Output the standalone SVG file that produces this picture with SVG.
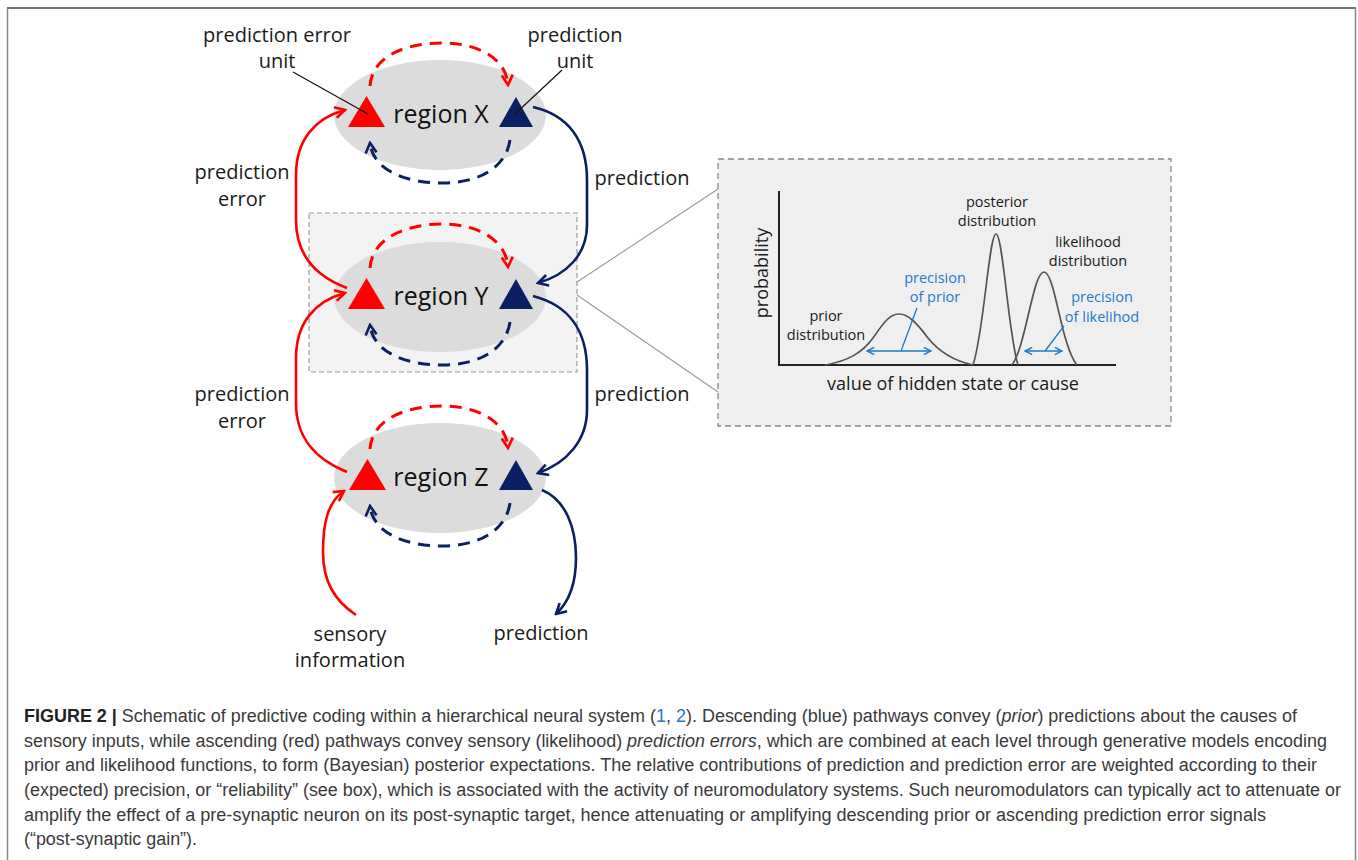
<svg xmlns="http://www.w3.org/2000/svg" width="1358" height="860" viewBox="0 0 1358 860">
<style>
.lbl{font-family:"Open Sans","Noto Sans","DejaVu Sans",sans-serif;font-size:20px;fill:#1a1a1a;text-anchor:middle}
.reg{font-family:"Open Sans","Noto Sans","DejaVu Sans",sans-serif;font-size:25px;fill:#111;text-anchor:middle}
.ins{font-family:"Open Sans","Noto Sans","DejaVu Sans",sans-serif;font-size:14.5px;fill:#1a1a1a;text-anchor:middle}
.insb{font-family:"Open Sans","Noto Sans","DejaVu Sans",sans-serif;font-size:14.5px;fill:#1f78c8;text-anchor:middle}
.ax{font-family:"Open Sans","Noto Sans","DejaVu Sans",sans-serif;font-size:18px;fill:#1a1a1a;text-anchor:middle}
.cap{font-family:"Liberation Sans",Arial,sans-serif;font-size:18px;fill:#3a3a3a}
.ell{fill:#dcdcdc}
.tr{fill:#ff0000}
.tb{fill:#0b1f63}
.sr{fill:none;stroke:#ff0000;stroke-width:2.6}
.sb{fill:none;stroke:#0b1f63;stroke-width:2.6}
.dr{fill:none;stroke:#ff0000;stroke-width:3;stroke-dasharray:12 8}
.db{fill:none;stroke:#0b1f63;stroke-width:3;stroke-dasharray:12 8}
.lead{stroke:#111;stroke-width:1.2;fill:none}
.curve{fill:none;stroke:#555;stroke-width:1.7}
</style>
<defs>
<marker id="ahR" viewBox="0 0 14 14" markerWidth="14" markerHeight="14" refX="12" refY="7" orient="auto" markerUnits="userSpaceOnUse"><path d="M2,1.5 L12,7 L2,12.5" fill="none" stroke="#ff0000" stroke-width="2.6" stroke-linejoin="miter"/></marker>
<marker id="ahB" viewBox="0 0 14 14" markerWidth="14" markerHeight="14" refX="12" refY="7" orient="auto" markerUnits="userSpaceOnUse"><path d="M2,1.5 L12,7 L2,12.5" fill="none" stroke="#0b1f63" stroke-width="2.6" stroke-linejoin="miter"/></marker>
<marker id="ahP" viewBox="0 0 10 10" markerWidth="9" markerHeight="9" refX="9" refY="5" orient="auto-start-reverse" markerUnits="userSpaceOnUse"><path d="M1,1 L9,5 L1,9" fill="none" stroke="#1f78c8" stroke-width="1.6"/></marker>
</defs>
<rect x="0" y="0" width="1358" height="860" fill="#ffffff"/>
<g id="frame">
<line x1="7" y1="8" x2="1356" y2="8" stroke="#444" stroke-width="1.5"/>
<line x1="7.5" y1="8" x2="7.5" y2="860" stroke="#888" stroke-width="1.5"/>
<line x1="1355.5" y1="8" x2="1355.5" y2="860" stroke="#888" stroke-width="1.5"/>
</g>
<g id="focus-box">
<rect x="309" y="213" width="268" height="159" fill="#f3f3f3" stroke="#999" stroke-width="1.2" stroke-dasharray="5 3"/>
</g>
<g id="regionX">
<ellipse class="ell" cx="440" cy="115" rx="106" ry="55"/>
<polygon class="tr" points="348,127 385,127 366.5,96"/>
<polygon class="tb" points="499,127 533,127 516,97"/>
<text class="reg" x="441" y="123">region X</text>
</g>
<g id="regionY">
<ellipse class="ell" cx="440" cy="297" rx="106" ry="55"/>
<polygon class="tr" points="348,309 385,309 366.5,278"/>
<polygon class="tb" points="499,309 533,309 516,279"/>
<text class="reg" x="441" y="305">region Y</text>
</g>
<g id="regionZ">
<ellipse class="ell" cx="440" cy="478" rx="106" ry="55"/>
<polygon class="tr" points="349,490 386,490 367.5,459"/>
<polygon class="tb" points="499,490 533,490 516,460"/>
<text class="reg" x="441" y="486">region Z</text>
</g>
<g id="connectors">
<path class="dr" d="M370,86 C372,55 408,43 442,43 C478,43 506,58 508,85" marker-end="url(#ahR)"/>
<path class="db" d="M510,140 C506,168 478,183 443,183 C405,183 373,170 370,143" marker-end="url(#ahB)"/>
<path class="dr" d="M370,268 C372,237 408,224 442,224 C478,224 506,240 508,267" marker-end="url(#ahR)"/>
<path class="db" d="M510,322 C506,350 478,365 443,365 C405,365 373,352 370,325" marker-end="url(#ahB)"/>
<path class="dr" d="M370,449 C372,418 408,406 442,406 C478,406 506,421 508,448" marker-end="url(#ahR)"/>
<path class="db" d="M510,503 C506,531 478,546 443,546 C405,546 373,533 370,506" marker-end="url(#ahB)"/>
<path class="sr" d="M347,288 C315,276 296,255 296,220 L296,175 C296,140 315,118 345,110" marker-end="url(#ahR)"/>
<path class="sr" d="M347,472 C315,459 296,438 296,403 L296,358 C296,323 315,301 345,293" marker-end="url(#ahR)"/>
<path class="sr" d="M356,615 C335,601 323,582 323,552 C323,522 328,502 344,491" marker-end="url(#ahR)"/>
<path class="sb" d="M533,107 C568,115 587,140 587,180 L587,225 C587,255 566,275 538,283" marker-end="url(#ahB)"/>
<path class="sb" d="M533,296 C568,305 587,330 587,370 L587,410 C587,440 567,463 538,473" marker-end="url(#ahB)"/>
<path class="sb" d="M542,490 C566,500 576,528 576,558 C576,584 568,603 556,614" marker-end="url(#ahB)"/>
<line class="lead" x1="293" y1="72" x2="368" y2="114"/>
<line class="lead" x1="562" y1="70" x2="515" y2="114"/>
<line x1="577" y1="282" x2="718" y2="189" stroke="#999" stroke-width="1.1"/>
<line x1="577" y1="295" x2="718" y2="392" stroke="#999" stroke-width="1.1"/>
</g>
<g id="labels">
<text class="lbl" x="277" y="42">prediction error</text>
<text class="lbl" x="277" y="68">unit</text>
<text class="lbl" x="575" y="42">prediction</text>
<text class="lbl" x="575" y="68">unit</text>
<text class="lbl" x="242" y="179">prediction</text>
<text class="lbl" x="242" y="206">error</text>
<text class="lbl" x="242" y="401">prediction</text>
<text class="lbl" x="242" y="428">error</text>
<text class="lbl" x="642" y="185">prediction</text>
<text class="lbl" x="642" y="401">prediction</text>
<text class="lbl" x="350" y="641">sensory</text>
<text class="lbl" x="350" y="667">information</text>
<text class="lbl" x="541" y="640">prediction</text>
</g>
<g id="inset">
<rect x="718" y="159" width="453" height="267" fill="#efefef" stroke="#888" stroke-width="1.3" stroke-dasharray="6 4"/>
<polyline points="779,191 779,365 1116,365" fill="none" stroke="#222" stroke-width="2"/>
<path class="curve" d="M825,365 C848,361 862,353 873,338 C884,322 890,314 899,314 C908,314 916,322 928,338 C940,353 955,361 973,365"/>
<path class="curve" d="M973,365 C984,332 989,234 996,234 C1003,234 1008,332 1018,365"/>
<path class="curve" d="M1012,365 C1026,346 1033,272 1044,272 C1055,272 1061,346 1077,365"/>
<line x1="867" y1="351" x2="931" y2="351" stroke="#1f78c8" stroke-width="1.6" marker-start="url(#ahP)" marker-end="url(#ahP)"/>
<line x1="901" y1="351" x2="917" y2="308" stroke="#1f78c8" stroke-width="1.3"/>
<line x1="1025" y1="351" x2="1062" y2="351" stroke="#1f78c8" stroke-width="1.6" marker-start="url(#ahP)" marker-end="url(#ahP)"/>
<line x1="1045" y1="351" x2="1064" y2="326" stroke="#1f78c8" stroke-width="1.3"/>
<text class="ax" transform="translate(768,273) rotate(-90)">probability</text>
<text class="ax" x="953" y="390">value of hidden state or cause</text>
<text class="ins" x="997" y="207">posterior</text>
<text class="ins" x="997" y="226">distribution</text>
<text class="ins" x="1088" y="247">likelihood</text>
<text class="ins" x="1088" y="266">distribution</text>
<text class="ins" x="826" y="321">prior</text>
<text class="ins" x="826" y="340">distribution</text>
<text class="insb" x="935" y="283">precision</text>
<text class="insb" x="935" y="302">of prior</text>
<text class="insb" x="1102" y="302">precision</text>
<text class="insb" x="1102" y="322">of likelihod</text>
</g>
<g id="caption">
<text class="cap" x="24" y="722" textLength="1273" lengthAdjust="spacingAndGlyphs"><tspan font-weight="bold" fill="#222">FIGURE 2 |</tspan> Schematic of predictive coding within a hierarchical neural system (<tspan fill="#1f78c8">1</tspan>, <tspan fill="#1f78c8">2</tspan>). Descending (blue) pathways convey (<tspan font-style="italic">prior</tspan>) predictions about the causes of</text>
<text class="cap" x="24" y="747" textLength="1303" lengthAdjust="spacingAndGlyphs">sensory inputs, while ascending (red) pathways convey sensory (likelihood) <tspan font-style="italic">prediction errors</tspan>, which are combined at each level through generative models encoding</text>
<text class="cap" x="24" y="771" textLength="1293" lengthAdjust="spacingAndGlyphs">prior and likelihood functions, to form (Bayesian) posterior expectations. The relative contributions of prediction and prediction error are weighted according to their</text>
<text class="cap" x="24" y="796" textLength="1317" lengthAdjust="spacingAndGlyphs">(expected) precision, or “reliability” (see box), which is associated with the activity of neuromodulatory systems. Such neuromodulators can typically act to attenuate or</text>
<text class="cap" x="24" y="821" textLength="1242" lengthAdjust="spacingAndGlyphs">amplify the effect of a pre-synaptic neuron on its post-synaptic target, hence attenuating or amplifying descending prior or ascending prediction error signals</text>
<text class="cap" x="24" y="845" textLength="173" lengthAdjust="spacingAndGlyphs">(“post-synaptic gain”).</text>
</g>
</svg>
